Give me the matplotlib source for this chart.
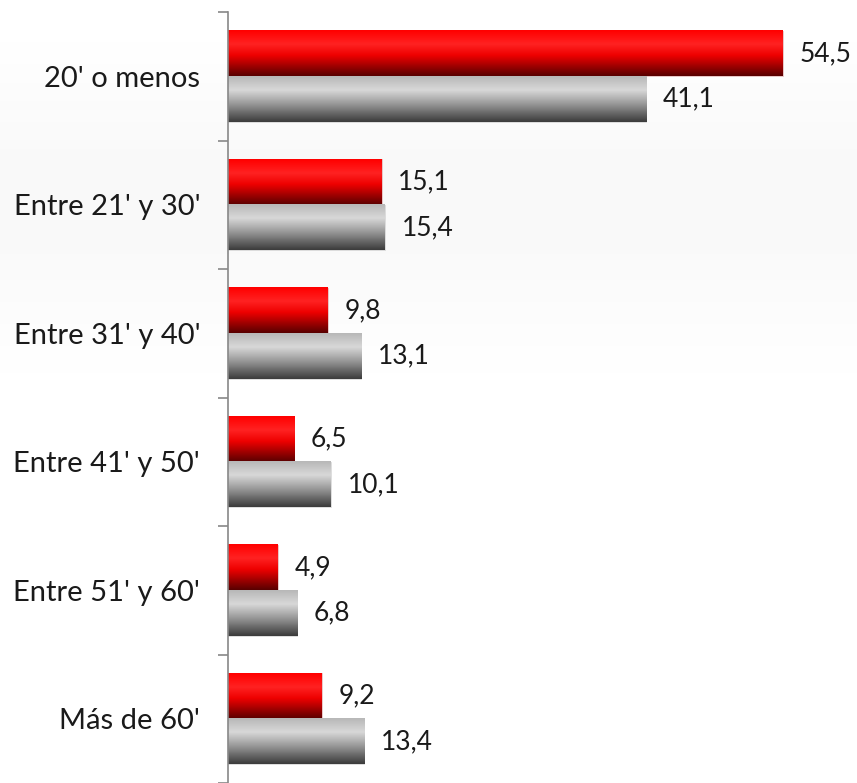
import numpy as np
import matplotlib
matplotlib.use("Agg")
import matplotlib.pyplot as plt
from matplotlib.colors import LinearSegmentedColormap

categories = ["20' o menos", "Entre 21' y 30'", "Entre 31' y 40'",
              "Entre 41' y 50'", "Entre 51' y 60'", "Más de 60'"]
red_values = [54.5, 15.1, 9.8, 6.5, 4.9, 9.2]
gray_values = [41.1, 15.4, 13.1, 10.1, 6.8, 13.4]
red_labels = ["54,5", "15,1", "9,8", "6,5", "4,9", "9,2"]
gray_labels = ["41,1", "15,4", "13,1", "10,1", "6,8", "13,4"]

plt.rcParams['font.family'] = ['Lato', 'DejaVu Sans']

fig = plt.figure(figsize=(8.57, 7.83), dpi=100)

# faint gray band in the background near the top
bg = fig.add_axes([0, 0, 1, 1], zorder=-10)
grad = np.array([1.0, 0.982, 0.972, 0.974, 0.988, 1.0, 1.0, 1.0, 1.0, 1.0, 1.0])
bg.imshow(grad.reshape(-1, 1), cmap="gray", vmin=0, vmax=1, aspect="auto",
          extent=[0, 1, 0, 1], interpolation="bicubic")
bg.set_axis_off()

ax = fig.add_axes([228 / 857, 0, 1 - 228 / 857, 1 - 12 / 783])
ax.patch.set_alpha(0)

red_cmap = LinearSegmentedColormap.from_list(
    "r", [(0, "#ff0000"), (0.3, "#ff2222"), (0.55, "#ee0000"), (1, "#5a0000")])
gray_cmap = LinearSegmentedColormap.from_list(
    "g", [(0, "#b8b8b8"), (0.3, "#d8d8d8"), (0.6, "#9a9a9a"), (1, "#3c3c3c")])
shade = np.linspace(0, 1, 64).reshape(-1, 1)

h = 0.355
y = np.arange(len(categories))
red_bars = ax.barh(y - h / 2, red_values, height=h, color="none",
                   edgecolor="#e0b0b0", linewidth=0.5)
gray_bars = ax.barh(y + h / 2, gray_values, height=h, color="none",
                    edgecolor="#d0d0d0", linewidth=0.5)

for bars, cmap in [(red_bars, red_cmap), (gray_bars, gray_cmap)]:
    for b in bars:
        x0, y0 = b.get_x(), b.get_y()
        w, hh = b.get_width(), b.get_height()
        ax.imshow(shade, cmap=cmap, aspect="auto", interpolation="bilinear",
                  extent=[x0, x0 + w, y0 + hh, y0], zorder=1)

for bars, labels in [(red_bars, red_labels), (gray_bars, gray_labels)]:
    for b, lab in zip(bars, labels):
        ax.annotate(lab, (b.get_width(), b.get_y() + b.get_height() / 2),
                    xytext=(12, 0), textcoords="offset points",
                    ha="left", va="center", fontsize=19, color="#1a1a1a")

ax.set_xlim(0, 61.8)
ax.set_ylim(5.5, -0.5)
ax.set_yticks(y)
ax.set_yticklabels(categories, fontsize=21, color="#1a1a1a")
ax.set_yticks(np.arange(-0.5, 6, 1), minor=True)
ax.tick_params(axis="y", which="major", length=0, pad=20)
ax.tick_params(axis="y", which="minor", length=7, color="#888888", width=1.2)
ax.set_xticks([])
for s in ["top", "right", "bottom"]:
    ax.spines[s].set_visible(False)
ax.spines["left"].set_color("#888888")
ax.spines["left"].set_linewidth(1.2)

fig.savefig("out.png", dpi=100)
